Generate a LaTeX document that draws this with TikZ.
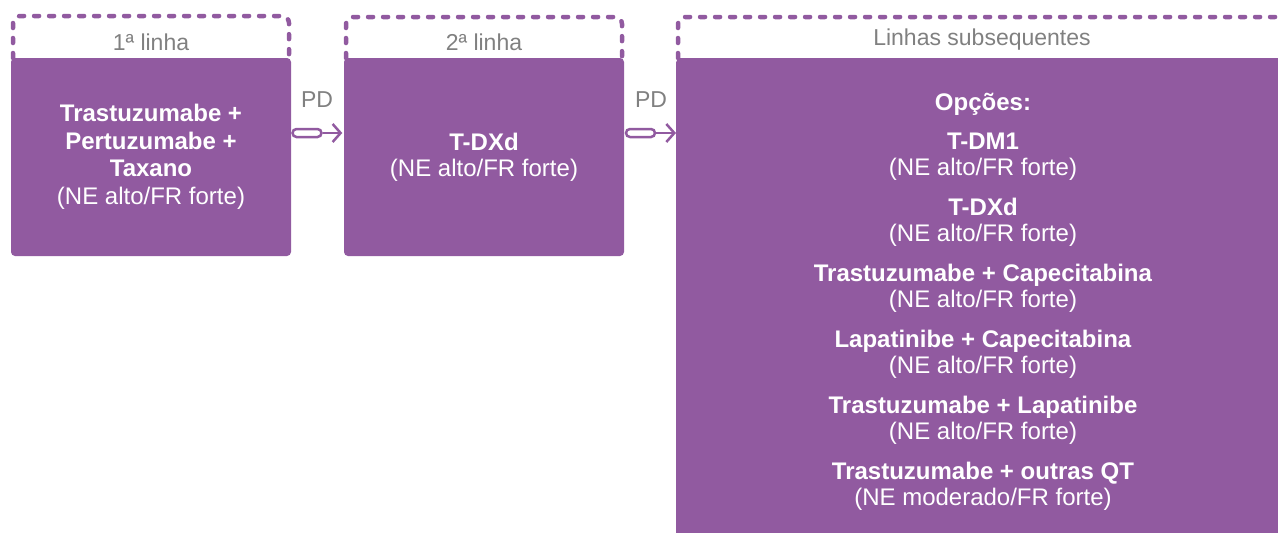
\documentclass[tikz,border=0pt]{standalone}
\usepackage{fontspec}
\setmainfont{Liberation Sans}
\usetikzlibrary{arrows.meta,positioning}
\definecolor{roxo}{HTML}{915AA0}
\definecolor{cinza}{HTML}{808080}
\tikzset{
  caixa/.style={fill=roxo, rounded corners=4pt, text=white, align=center, inner sep=0pt},
  cabeca/.style={draw=roxo, line width=4.5pt, dash pattern=on 5pt off 10pt, line cap=round, rounded corners=7pt},
  rotulo/.style={text=cinza, font=\fontsize{23}{26}\selectfont},
  pilula/.style={draw=roxo, line width=2.5pt, rounded corners=4pt, minimum width=29pt, minimum height=8pt, inner sep=0pt},
  seta/.style={draw=roxo, line width=2.5pt, -{Straight Barb[length=8pt,width=18pt]}},
  opcao/.style={text=white, align=center, font=\fontsize{24}{26}\selectfont},
}
\begin{document}
\begin{tikzpicture}[x=1pt, y=-1pt]
    \useasboundingbox (0,0) rectangle (1278,533);
    \clip (0,0) rectangle (1278,533);
    % cabecalhos tracejados
    \draw[cabeca] (13,58) -- (13,16) -- (289,16) -- (289,58);
    \draw[cabeca] (346,58) -- (346,17) -- (622,17) -- (622,58);
    \draw[cabeca] (678,58) -- (678,17) -- (1300,17);
    \node[rotulo] (cab1) at (151,42) {1ª linha};
    \node[rotulo] (cab2) at (484,42) {2ª linha};
    \node[rotulo] (cab3) at (982,40) {Linhas subsequentes};
    % caixas
    \node[caixa, minimum width=280pt, minimum height=198pt, font=\fontsize{24}{27.5}\selectfont] (linha1) at (151,157)
        {\textbf{Trastuzumabe +}\\\textbf{Pertuzumabe +}\\\textbf{Taxano}\\(NE alto/FR forte)};
    \node[caixa, minimum width=280pt, minimum height=198pt, font=\fontsize{24}{26}\selectfont] (linha2) at (484,157)
        {\textbf{T-DXd}\\(NE alto/FR forte)};
    \node[caixa, minimum width=640pt, minimum height=520pt, anchor=north west] (linhas) at (676,58) {};
    % opcoes
    \node[opcao, font=\bfseries\fontsize{24}{26}\selectfont] (opcoes) at (983,104) {Opções:};
    \node[opcao] (tdm1) at (983,157) {\textbf{T-DM1}\\(NE alto/FR forte)};
    \begin{scope}[node distance=10.5pt]
    \node[opcao, below=of tdm1] (tdxd) {\textbf{T-DXd}\\(NE alto/FR forte)};
    \node[opcao, below=of tdxd] (trcap) {\textbf{Trastuzumabe + Capecitabina}\\(NE alto/FR forte)};
    \node[opcao, below=of trcap] (lacap) {\textbf{Lapatinibe + Capecitabina}\\(NE alto/FR forte)};
    \node[opcao, below=of lacap] (trlap) {\textbf{Trastuzumabe + Lapatinibe}\\(NE alto/FR forte)};
    \node[opcao, below=of trlap] (trqt) {\textbf{Trastuzumabe + outras QT}\\(NE moderado/FR forte)};
    \end{scope}
    % setas PD
    \node[rotulo] (pd1r) at (317,100) {PD};
    \node[pilula] (pd1) at (307,133) {};
    \draw[seta, shorten >=1.5pt] (pd1.east) -- (pd1.east -| linha2.west);
    \node[rotulo] (pd2r) at (651,100) {PD};
    \node[pilula] (pd2) at (640.5,133) {};
    \draw[seta] (pd2.east) -- (pd2.east -| linhas.west);
\end{tikzpicture}
\end{document}
